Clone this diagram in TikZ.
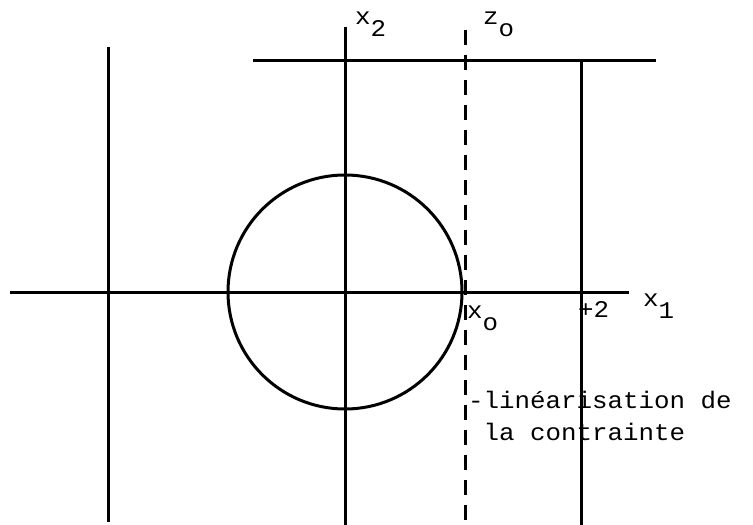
\documentclass[tikz,border=0pt]{standalone}
\usepackage{fontspec}
\setmonofont[FakeStretch=1.08]{Liberation Mono}
\usetikzlibrary{positioning}

\newcommand\lowidx[1]{\raisebox{-12bp}{#1}}

\begin{document}
\begin{tikzpicture}[
  x=1bp, y=-1bp,
  axis/.style={line width=3bp},
  bound/.style={line width=3bp},
  cut/.style={line width=3bp, dash pattern=on 15bp off 10bp},
  lbl/.style={font=\ttfamily\fontsize{24}{32}\selectfont, inner sep=0pt,
              anchor=base west, align=left},
]
  \useasboundingbox (0,0) rectangle (753,525);

  %% axes
  \coordinate (x1w) at (10,292);
  \coordinate (x1e) at (629,292);
  \coordinate (x2n) at (345,27);
  \coordinate (x2s) at (345,525);
  \draw[axis] (x1w) -- (x1e);
  \draw[axis] (x2n) -- (x2s);

  %% feasible circle
  \coordinate (orig) at (345,292);
  \draw[bound] (orig) circle[radius=117bp];

  %% constraint lines
  \coordinate (topw) at (253,61);
  \coordinate (tope) at (656,61);
  \coordinate (leftn) at (108,47);
  \coordinate (lefts) at (108,522);
  \coordinate (rightn) at (581,61);
  \coordinate (rights) at (581,525);
  \draw[bound] (topw) -- (tope);
  \draw[bound] (leftn) -- (lefts);
  \draw[bound] (rightn) -- (rights);

  %% linearised constraint
  \coordinate (zon) at (465,30);
  \coordinate (zos) at (465,525);
  \draw[cut] (zon) -- (zos);

  %% labels
  \node[lbl] (lx2) at (355,25) {x\lowidx{2}};
  \node[lbl] (lzo) at (483,25) {z\lowidx{o}};
  \node[lbl] (lxo) at (467,318) {x\lowidx{o}};
  \node[lbl] (lp2) at (578,317) {+2};
  \node[lbl] (lx1) at (643,306) {x\lowidx{1}};
  \node[lbl] (lin) at (468,440) {-linéarisation de\\\hphantom{-}la contrainte};

\end{tikzpicture}
\end{document}
